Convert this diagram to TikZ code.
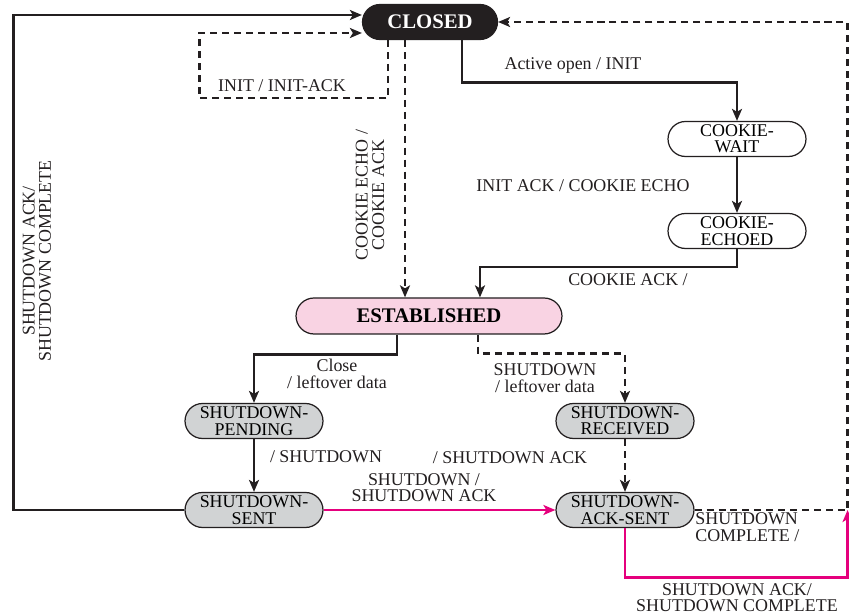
\documentclass[tikz,border=0pt]{standalone}
\usepackage{fontspec}
\setmainfont{Liberation Serif}
\usepackage{xcolor}
\usepackage{tikz}
\usetikzlibrary{positioning,arrows.meta,calc}
\definecolor{ink}{HTML}{231F20}
\definecolor{estfill}{HTML}{F9D3E3}
\definecolor{sdfill}{HTML}{D1D3D4}
\definecolor{mag}{HTML}{E5007D}
\tikzset{
  st/.style={rectangle,draw=ink,fill=white,rounded corners=0.35cm,line width=0.7pt,
    align=center,inner sep=0pt,minimum width=2.76cm,minimum height=0.7cm,
    font=\fontsize{10.2}{9.3}\selectfont},
  sd/.style={st,fill=sdfill},
  cls/.style={st,fill=ink,text=white,minimum width=2.7cm,
    font=\fontsize{11.8}{12}\selectfont\bfseries},
  est/.style={st,fill=estfill,minimum width=5.32cm,minimum height=0.72cm,
    rounded corners=0.36cm,font=\fontsize{11.8}{12}\selectfont\bfseries},
  lbl/.style={align=center,inner sep=0pt,text=ink,font=\fontsize{10.2}{9.3}\selectfont},
  fl/.style={-{Stealth[length=2.4mm,width=2mm,inset=0.6mm]},draw=ink,line width=1.4pt},
  dsh/.style={dash pattern=on 4pt off 2.8pt},
  fm/.style={fl,draw=mag,-{Stealth[length=2.4mm,width=2mm,inset=0.6mm,fill=mag]}},
}
\begin{document}
\begin{tikzpicture}[x=0.02cm,y=-0.02cm]
  \useasboundingbox (0,0) rectangle (849,614);
  % states
  \node[cls] (closed) at (430,22) {CLOSED};
  \node[st] (cwait) at (737,139) {COOKIE-\\WAIT};
  \node[st] (cecho) at (737,231) {COOKIE-\\ECHOED};
  \node[est] (estab) at (429,316) {ESTABLISHED};
  \node[sd] (spend) at (254,421) {SHUTDOWN-\\PENDING};
  \node[sd] (srecv) at (625,421) {SHUTDOWN-\\RECEIVED};
  \node[sd] (ssent) at (254,510) {SHUTDOWN-\\SENT};
  \node[sd] (sack) at (625,510) {SHUTDOWN-\\ACK-SENT};
  % transitions
  \draw[fl] ([xshift=0.64cm]closed.south) -- ++(0,42.5) -| (cwait.north);
  \draw[fl] (cwait) -- (cecho);
  \draw[fl] (cecho.south) -- ++(0,18) -| ([xshift=1.02cm]estab.north);
  \draw[fl,dsh] ([xshift=-0.5cm]closed.south) -- ([xshift=-0.48cm]estab.north);
  \draw[fl,dsh] ([xshift=-0.84cm]closed.south) -- ++(0,58)
    -| ([xshift=-3.25cm,yshift=-0.22cm]closed.west) -- ([yshift=-0.22cm]closed.west);
  \draw[fl] (ssent.west) -- ++(-171,0) |- ([yshift=0.14cm]closed.west);
  \draw[fl] ([xshift=-0.64cm]estab.south) -- ++(0,20) -| (spend.north);
  \draw[fl,dsh] ([xshift=0.98cm]estab.south) -- ++(0,19) -| (srecv.north);
  \draw[fl] (spend) -- (ssent);
  \draw[fl,dsh] (srecv) -- (sack);
  \draw[fm] (ssent) -- (sack);
  \draw[fl,dsh] (sack.east) -- ++(153,0) |- (closed.east);
  \draw[fm] (sack.south) -- ++(0,49.5) -| ([xshift=3.06cm]sack.east);
  % labels
  \node[lbl] (l1) at (573,65) {Active open / INIT};
  \node[lbl] (l2) at (282,86) {INIT / INIT-ACK};
  \node[lbl] (l3) at (583,186) {INIT ACK / COOKIE ECHO};
  \node[lbl] (l4) at (628,280) {COOKIE ACK /};
  \node[lbl,rotate=90] (l5) at (370,195) {COOKIE ECHO /\\COOKIE ACK};
  \node[lbl,rotate=90] (l6) at (37,261) {SHUTDOWN ACK/\\SHUTDOWN COMPLETE};
  \node[lbl] (l7) at (337,374) {Close\\/ leftover data};
  \node[lbl] (l8) at (545,378) {SHUTDOWN\\/ leftover data};
  \node[lbl] (l9) at (326,457) {/ SHUTDOWN};
  \node[lbl] (l10) at (510,458) {/ SHUTDOWN ACK};
  \node[lbl] (l11) at (424,488) {SHUTDOWN /\\SHUTDOWN ACK};
  \node[lbl,anchor=west,align=left] (l12) at (695,527) {SHUTDOWN\\COMPLETE /};
  \node[lbl] (l13) at (737,598) {SHUTDOWN ACK/\\SHUTDOWN COMPLETE};
\end{tikzpicture}
\end{document}
